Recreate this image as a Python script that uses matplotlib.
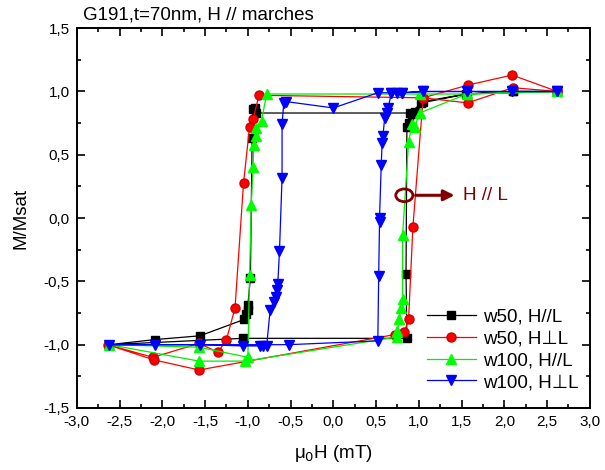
import matplotlib
matplotlib.use("Agg")
import matplotlib.pyplot as plt
from matplotlib.patches import Ellipse
from matplotlib.ticker import MultipleLocator, FuncFormatter

plt.rcParams['font.family'] = ['Liberation Sans', 'DejaVu Sans']

# w50, H//L  (descending branch then ascending branch)
w50_par_x = [2.62, 2.1, 1.55, 1.05, 0.9, -0.9, -0.92, -0.94, -0.95, -0.97, -1.0, -1.0, -1.02, -1.04,
             -1.56, -2.09, -2.62,
             -1.06, 0.86, 0.85, 0.86, 0.88, 0.92, 0.95, 1.03, 1.56, 2.1, 2.62]
w50_par_y = [1.0, 1.0, 0.98, 0.92, 0.83, 0.83, 0.87, 0.86, 0.63, -0.47, -0.69, -0.73, -0.76, -0.8,
             -0.93, -0.96, -1.0,
             -0.95, -0.95, -0.44, 0.72, 0.75, 0.82, 0.84, 0.91, 0.98, 1.0, 1.0]

# w50, H perp L
w50_perp_x = [2.62, 2.1, 1.57, 1.05, -0.87, -0.94, -0.98, -1.05, -1.15, -1.25, -1.35, -1.57,
              -2.11, -2.64,
              -2.1, -1.57, 0.72, 0.83, 0.88, 0.93, 1.05, 1.57, 2.09, 2.62]
w50_perp_y = [1.0, 1.03, 0.91, 0.95, 0.97, 0.78, 0.72, 0.28, -0.71, -0.96, -1.06, -0.99,
              -1.1, -1.0,
              -1.12, -1.2, -0.92, -0.9, -0.8, -0.07, 0.95, 1.05, 1.13, 1.0]

# w100, H//L
w100_par_x = [2.62, 1.56, 1.01, -0.78, -0.84, -0.9, -0.91, -0.93, -0.94, -0.96, -0.98, -1.0,
              -1.57, -2.62,
              -1.57, -1.03, 0.74, 0.75, 0.77, 0.79, 0.81, 0.81, 0.88, 0.92, 0.95, 1.01, 1.56, 2.62]
w100_par_y = [1.0, 0.98, 0.98, 0.98, 0.77, 0.71, 0.65, 0.58, 0.4, 0.1, -0.45, -1.1,
              -1.02, -1.0,
              -1.13, -1.13, -0.94, -0.89, -0.8, -0.71, -0.64, -0.13, 0.6, 0.74, 0.72, 0.83, 0.98, 1.0]

# w100, H perp L
w100_perp_x = [2.62, 2.09, 1.56, 1.05, 0.8, 0.74, 0.68, 0.52, 0.0, -0.55, -0.58, -0.6, -0.6,
               -0.63, -0.65, -0.66, -0.67, -0.7, -0.74, -0.78, -0.82, -0.86, -1.06, -1.56,
               -2.09, -2.62,
               -0.52, 0.52, 0.53, 0.54, 0.54, 0.56, 0.57, 0.58, 0.6, 0.63, 0.64, 0.68, 0.8,
               1.05, 1.56, 2.09, 2.62]
w100_perp_y = [1.0, 1.0, 1.0, 1.0, 0.99, 0.99, 0.99, 0.99, 0.87, 0.92, 0.91, 0.74, 0.32,
               -0.26, -0.52, -0.57, -0.62, -0.66, -0.73, -1.01, -1.01, -1.01, -1.01, -1.0,
               -1.0, -1.0,
               -1.0, -0.97, -0.46, -0.03, 0.0, 0.42, 0.59, 0.65, 0.79, 0.83, 0.87, 0.99, 0.99,
               1.0, 1.0, 1.0, 1.0]

fig = plt.figure(figsize=(6.05, 4.7), dpi=100)
ax = fig.add_axes([0.127, 0.132, 0.848, 0.808])

ax.plot(w50_par_x, w50_par_y, '-s', color='black', lw=0.9, ms=5.5, label='w50, H//L')
ax.plot(w50_perp_x, w50_perp_y, '-o', color='red', mfc='red', mec='#cc0000', lw=0.9, ms=6.5,
        label='w50, H\u22a5L')
ax.plot(w100_par_x, w100_par_y, '-^', color='#00ee00', mfc='#00ff00', mec='#00ff00', lw=0.9, ms=7.5,
        label='w100, H//L')
ax.plot(w100_perp_x, w100_perp_y, '-v', color='blue', mfc='blue', mec='blue', lw=0.9, ms=7.5,
        label='w100, H\u22a5L')

# annotation
ax.add_patch(Ellipse((0.83, 0.18), 0.2, 0.1, fill=False, ec='#800000', lw=2.0, zorder=5))
ax.annotate('', xy=(1.45, 0.18), xytext=(0.93, 0.18),
            arrowprops=dict(arrowstyle='-|>', color='#800000', lw=2.2, mutation_scale=16))
ax.text(1.52, 0.18, 'H // L', color='#800000', fontsize=13.5, va='center', ha='left')

ax.set_xlim(-3.0, 3.0)
ax.set_ylim(-1.5, 1.5)
comma = FuncFormatter(lambda v, p: ('%.1f' % v).replace('.', ','))
ax.xaxis.set_major_locator(MultipleLocator(0.5))
ax.xaxis.set_minor_locator(MultipleLocator(0.25))
ax.yaxis.set_major_locator(MultipleLocator(0.5))
ax.yaxis.set_minor_locator(MultipleLocator(0.25))
ax.xaxis.set_major_formatter(comma)
ax.yaxis.set_major_formatter(comma)
ax.tick_params(which='both', direction='in', top=True, right=True, labelsize=11, width=1.2)
ax.tick_params(which='major', length=6, pad=5)
ax.tick_params(which='minor', length=3)
for s in ax.spines.values():
    s.set_linewidth(1.4)

ax.set_xlabel('\u03bc$_0$H (mT)', fontsize=13.5, labelpad=10)
ax.set_ylabel('M/Msat', fontsize=13.5, labelpad=10)
fig.text(0.137, 0.968, 'G191,t=70nm, H // marches', fontsize=13.5, va='center', ha='left')

ax.legend(loc='lower right', bbox_to_anchor=(1.0, 0.015), frameon=False, fontsize=13.5,
          handlelength=2.6, handletextpad=0.4, labelspacing=0.25, borderaxespad=0.2)

fig.savefig('out.png', dpi=100)
